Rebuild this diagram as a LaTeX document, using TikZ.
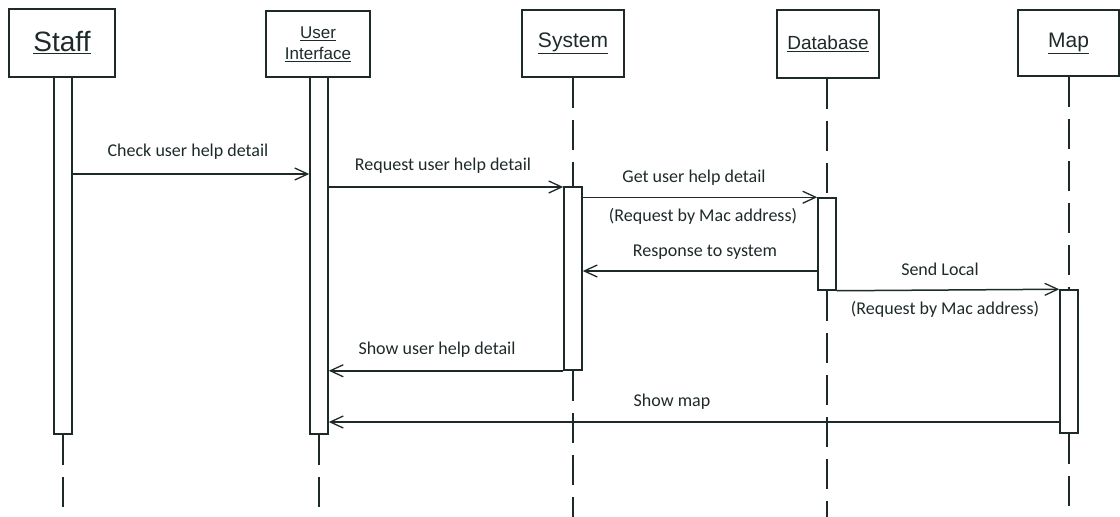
\documentclass[tikz,border=0pt]{standalone}
\usepackage{fontspec}
\setmainfont{Carlito}
\newfontfamily\titlefont{Liberation Sans}
\usetikzlibrary{arrows.meta}

\definecolor{ink}{HTML}{1E2A2A}

\tikzset{
  objbox/.style={draw=ink, line width=1.6pt, inner sep=0pt, align=center, text=ink},
  actbox/.style={draw=ink, line width=1.5pt, fill=white, minimum width=18pt, inner sep=0pt},
  life/.style={draw=ink, line width=1.5pt, dash pattern=on 30pt off 12pt},
  msg/.style={draw=ink, line width=1.5pt, -{Straight Barb[length=13pt,width=12pt,line width=1.3pt]}},
  lbl/.style={text=ink, inner sep=0pt, font=\fontsize{18}{20}\selectfont}
}

\begin{document}
\begin{tikzpicture}[x=1pt,y=-1pt]
\useasboundingbox (0,0) rectangle (1120,517);

% objects
\node[objbox, minimum width=106pt, minimum height=68pt, font=\titlefont\fontsize{28}{30}\selectfont] (staff) at (62,43) {\underline{Staff}};
\node[objbox, minimum width=104pt, minimum height=66pt, font=\titlefont\fontsize{17}{21}\selectfont] (ui) at (318,44) {\underline{User}\\\underline{Interface}};
\node[objbox, minimum width=102pt, minimum height=67pt, font=\titlefont\fontsize{21}{24}\selectfont] (sys) at (573,43.5) {\underline{System}};
\node[objbox, minimum width=102pt, minimum height=68pt, font=\titlefont\fontsize{19}{22}\selectfont] (db) at (828,44) {\underline{Database}};
\node[objbox, minimum width=101pt, minimum height=66pt, font=\titlefont\fontsize{21}{24}\selectfont] (map) at (1068.5,43) {\underline{Map}};

% activation bars
\node[actbox, minimum height=357pt] (staffact) at (63,255.5) {};
\node[actbox, minimum height=357pt] (uiact) at (319,255.5) {};
\node[actbox, minimum height=183pt] (sysact) at (573,278.5) {};
\node[actbox, minimum height=92pt] (dbact) at (827,244) {};
\node[actbox, minimum height=143pt] (mapact) at (1069,361.5) {};

% lifelines
\coordinate (staffend) at (63,517);
\coordinate (uiend) at (319,517);
\coordinate (sysend) at (573,517);
\coordinate (dbend) at (827,517);
\coordinate (mapend) at (1069,517);
\draw[life] (staffact.south) -- (staffend);
\draw[life] (uiact.south) -- (uiend);
\draw[life] (sys.south -| sysact.north) -- (sysact.north);
\draw[life] (sysact.south) -- (sysend);
\draw[life] (db.south -| dbact.north) -- (dbact.north);
\draw[life] (dbact.south) -- (dbend);
\draw[life] (map.south -| mapact.north) -- (mapact.north);
\draw[life] (mapact.south) -- (mapend);

% messages
\draw[msg] (staffact.east |- 0,174) -- (uiact.west |- 0,174);
\draw[msg] (uiact.east |- 0,187) -- (sysact.west |- 0,187);
\draw[msg] (sysact.east |- dbact.north) -- (dbact.north west);
\draw[msg] (dbact.west |- 0,271) -- (sysact.east |- 0,271);
\draw[msg] (dbact.south east) -- (mapact.north west);
\draw[msg] (sysact.south west) -- (uiact.east |- sysact.south);
\draw[msg] (mapact.west |- 0,422) -- (uiact.east |- 0,422);

% message labels
\node[lbl] (l1) at (188,152) {Check user help detail};
\node[lbl] (l2) at (443,166) {Request user help detail};
\node[lbl] (l3) at (694,178) {Get user help detail};
\node[lbl] (l3b) at (703,216) {(Request by Mac address)};
\node[lbl] (l4) at (705,252) {Response to system};
\node[lbl] (l5) at (940,269) {Send Local};
\node[lbl] (l5b) at (945,309) {(Request by Mac address)};
\node[lbl] (l6) at (437,350) {Show user help detail};
\node[lbl] (l7) at (672,402) {Show map};
\end{tikzpicture}
\end{document}
